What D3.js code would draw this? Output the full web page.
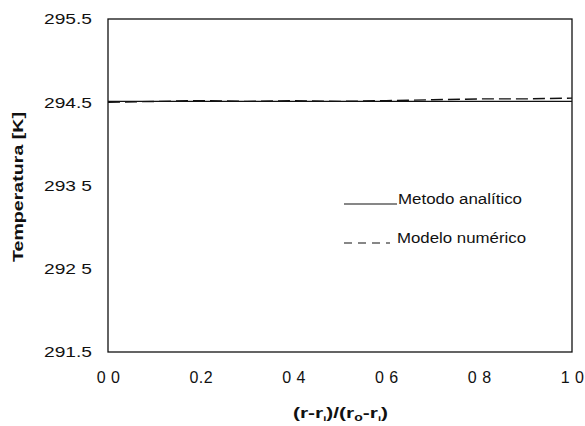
<!DOCTYPE html>
<html>
<head>
<meta charset="utf-8">
<script src="https://cdn.jsdelivr.net/npm/d3@7"></script>
<style>
  body { margin: 0; background: #fff; }
  text { font-family: "Liberation Sans", Arial, sans-serif; fill: #111; }
</style>
</head>
<body>
<div id="chart"></div>
<script>
//data
const radio = [0, 0.1, 0.2, 0.3, 0.4, 0.5, 0.6, 0.7, 0.8, 0.9, 1.0];
const analitico = [294.51, 294.51, 294.51, 294.51, 294.51, 294.51, 294.51, 294.51, 294.51, 294.51, 294.51];
const numerico = [294.50, 294.51, 294.52, 294.51, 294.52, 294.51, 294.52, 294.53, 294.54, 294.54, 294.55];

const xTicks = [0, 0.2, 0.4, 0.6, 0.8, 1.0];
const xTickLabels = ["0 0", "0.2", "0 4", "0 6", "0 8", "1 0"];
const yTicks = [291.5, 292.5, 293.5, 294.5, 295.5];
const yTickLabels = ["291.5", "292 5", "293 5", "294.5", "295.5"];

const seriesNames = ["Metodo analítico", "Modelo numérico"];

//margins
let margin = {top: 19, right: 13, bottom: 74, left: 108};
let width = 585 - margin.left - margin.right;
let height = 426 - margin.top - margin.bottom;

let svg = d3.select("#chart")
  .append("svg")
  .attr("width", 585)
  .attr("height", 426);

let g = svg.append("g")
  .attr("transform", `translate(${margin.left}, ${margin.top})`);

//scales
let x = d3.scaleLinear().domain([0, 1]).range([0, width]);
let y = d3.scaleLinear().domain([291.5, 295.5]).range([height, 0]);

//axes (labels only)
let xAxis = d3.axisBottom(x)
  .tickValues(xTicks)
  .tickSize(0)
  .tickPadding(20)
  .tickFormat((d, i) => xTickLabels[i]);

let yAxis = d3.axisLeft(y)
  .tickValues(yTicks)
  .tickSize(0)
  .tickPadding(16)
  .tickFormat((d, i) => yTickLabels[i]);

let xAxisGroup = g.append("g")
  .attr("transform", `translate(0,${height})`)
  .call(xAxis);
let yAxisGroup = g.append("g").call(yAxis);

[xAxisGroup, yAxisGroup].forEach(a => {
  a.select(".domain").remove();
  a.selectAll("text")
    .attr("font-family", "Liberation Sans, Arial, sans-serif")
    .attr("fill", "#111");
});
xAxisGroup.selectAll("text")
  .attr("font-size", "16px")
  .attr("letter-spacing", "0.5px");
yAxisGroup.selectAll("text")
  .attr("font-size", "15px")
  .attr("textLength", 48)
  .attr("lengthAdjust", "spacingAndGlyphs");

//frame
g.append("rect")
  .attr("x", 0).attr("y", 0)
  .attr("width", width).attr("height", height)
  .attr("fill", "none")
  .attr("stroke", "#111")
  .attr("stroke-width", 1.3);

//lines
let line = d3.line()
  .x((d, i) => x(radio[i]))
  .y(d => y(d));

g.append("path")
  .datum(analitico)
  .attr("d", line)
  .attr("fill", "none")
  .attr("stroke", "#111")
  .attr("stroke-width", 1.3);

g.append("path")
  .datum(numerico)
  .attr("d", line)
  .attr("fill", "none")
  .attr("stroke", "#111")
  .attr("stroke-width", 1.4)
  .attr("stroke-dasharray", "12,5");

//legend
let legend = g.append("g")
  .attr("transform", "translate(236, 0)");

legend.append("line")
  .attr("x1", 0).attr("x2", 53)
  .attr("y1", 185).attr("y2", 185)
  .attr("stroke", "#111").attr("stroke-width", 1.2);

legend.append("line")
  .attr("x1", 0).attr("x2", 46)
  .attr("y1", 224).attr("y2", 224)
  .attr("stroke", "#111").attr("stroke-width", 1.2)
  .attr("stroke-dasharray", "8,6");

legend.selectAll("text.leg")
  .data(seriesNames)
  .enter()
  .append("text")
  .attr("class", "leg")
  .attr("x", (d, i) => i === 0 ? 54 : 53)
  .attr("y", (d, i) => 185 + i * 39)
  .attr("font-size", "14px")
  .attr("textLength", (d, i) => i === 0 ? 124 : 129)
  .attr("lengthAdjust", "spacingAndGlyphs")
  .text(d => d);

//axis titles
svg.append("text")
  .attr("transform", "rotate(-90)")
  .attr("x", -187)
  .attr("y", 23)
  .attr("text-anchor", "middle")
  .attr("font-size", "15px")
  .attr("font-weight", "bold")
  .attr("textLength", 150)
  .attr("lengthAdjust", "spacingAndGlyphs")
  .text("Temperatura [K]");

//x title with subscripts
let xt = svg.append("text")
  .attr("x", 293)
  .attr("y", 418)
  .attr("font-size", "15px")
  .attr("font-weight", "bold")
  .attr("textLength", 95)
  .attr("lengthAdjust", "spacingAndGlyphs");
xt.append("tspan").text("(r-r");
xt.append("tspan").attr("dy", 3).attr("font-size", "8px").text("i");
xt.append("tspan").attr("dy", -3).text(")/(r");
xt.append("tspan").attr("dy", 3).attr("font-size", "10px").text("o");
xt.append("tspan").attr("dy", -3).text("-r");
xt.append("tspan").attr("dy", 3).attr("font-size", "8px").text("i");
xt.append("tspan").attr("dy", -3).text(")");
</script>
</body>
</html>
